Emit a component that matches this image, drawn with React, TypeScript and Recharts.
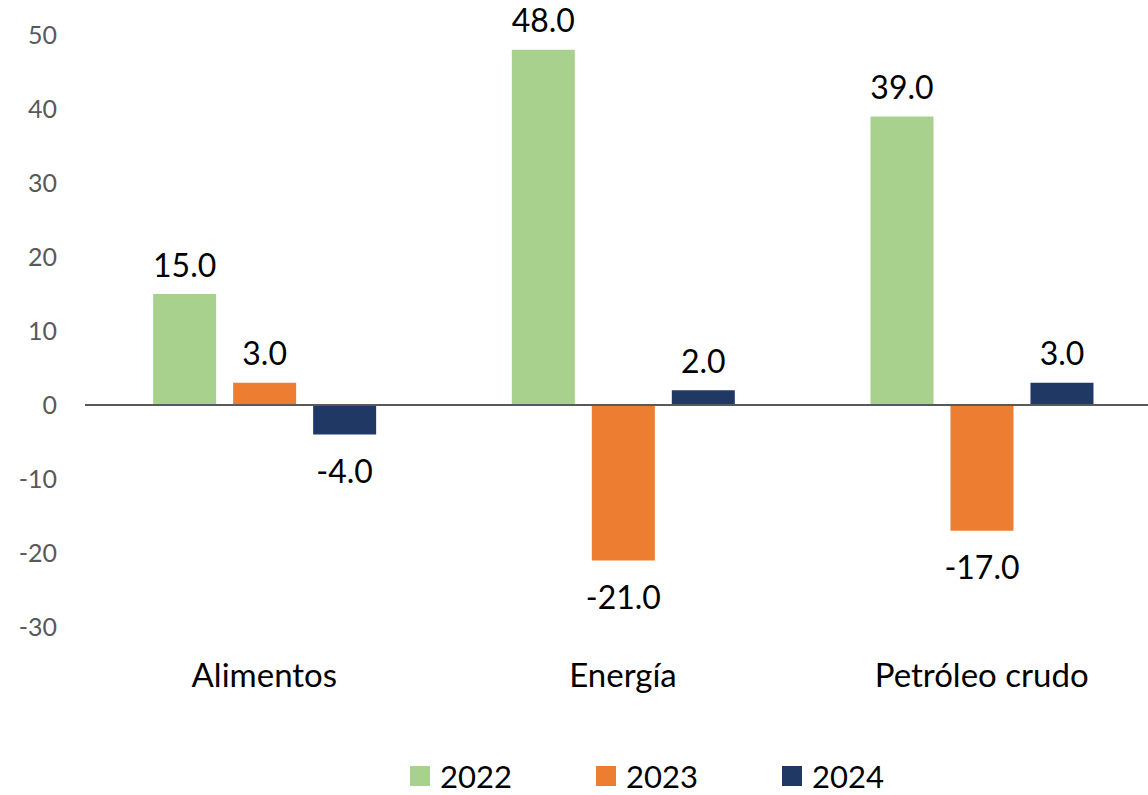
import React from 'react';
import { BarChart, Bar, XAxis, YAxis, ReferenceLine, Legend, LabelList } from 'recharts';

const categories = ['Alimentos', 'Energía', 'Petróleo crudo'];
const values2022 = [15, 48, 39];
const values2023 = [3, -21, -17];
const values2024 = [-4, 2, 3];
const yTicks = [-30, -20, -10, 0, 10, 20, 30, 40, 50];

const series = [
  { key: 'y2022', name: '2022', color: '#A9D18E' },
  { key: 'y2023', name: '2023', color: '#ED7D31' },
  { key: 'y2024', name: '2024', color: '#203864' },
];

const data = categories.map((name, i) => ({
  name,
  y2022: values2022[i],
  y2023: values2023[i],
  y2024: values2024[i],
}));

const FONT = 'Lato, "Open Sans", sans-serif';

// value label above positive bars, below negative ones
function BarValueLabel(props: any) {
  const { x, y, width, height, value } = props;
  const top = Math.min(y, y + height);
  const bottom = Math.max(y, y + height);
  const cx = x + width / 2;
  const ty = value >= 0 ? top - 30 : bottom + 36;
  return (
    <text x={cx} y={ty} textAnchor="middle" dominantBaseline="central" fill="#000" fontSize={32} fontFamily={FONT}>
      {Number(value).toFixed(1)}
    </text>
  );
}

function LegendContent() {
  return (
    <div style={{ display: 'flex', justifyContent: 'flex-start', paddingLeft: 410, fontFamily: FONT, fontSize: 31, color: '#000' }}>
      {series.map((s) => (
        <div key={s.key} style={{ display: 'flex', alignItems: 'center', width: 186 }}>
          <span style={{ display: 'inline-block', width: 20, height: 20, background: s.color, marginRight: 10 }} />
          <span>{s.name}</span>
        </div>
      ))}
    </div>
  );
}

export default function App() {
  return (
    <div style={{ position: 'absolute', left: 0, top: 0, width: 1148, height: 795, overflow: 'hidden', background: '#fff' }}>
      <BarChart
        width={1175}
        height={795}
        data={data}
        margin={{ top: 35, right: 14, bottom: 0, left: 0 }}
        barGap={17}
        barCategoryGap="19%"
      >
        <XAxis
          dataKey="name"
          axisLine={false}
          tickLine={false}
          tickSize={0}
          tickMargin={37}
          height={130}
          tick={{ fill: '#000', fontSize: 33, fontFamily: FONT }}
          interval={0}
        />
        <YAxis
          domain={[-30, 50]}
          ticks={yTicks}
          axisLine={false}
          tickLine={false}
          tickSize={0}
          tickMargin={28}
          width={85}
          tick={{ fill: '#595959', fontSize: 25, fontFamily: FONT }}
        />
        <ReferenceLine y={0} stroke="#595959" strokeWidth={2} />
        <Legend verticalAlign="bottom" content={<LegendContent />} wrapperStyle={{ bottom: 0 }} />
        {series.map((s) => (
          <Bar key={s.key} dataKey={s.key} name={s.name} fill={s.color} isAnimationActive={false}>
            <LabelList dataKey={s.key} content={<BarValueLabel />} />
          </Bar>
        ))}
      </BarChart>
    </div>
  );
}
